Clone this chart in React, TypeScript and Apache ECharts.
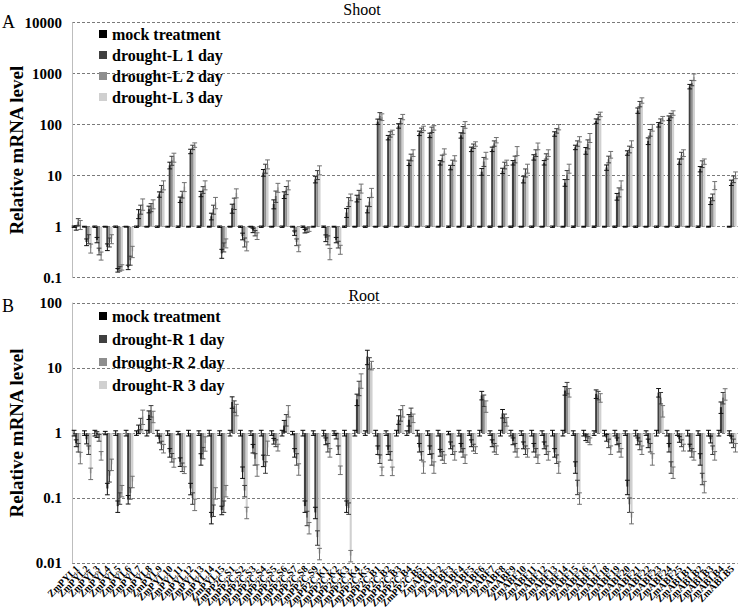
import React, { useEffect, useRef } from "react";
import * as echarts from "echarts";

// ---------- categories ----------
const genes = [
  "ZmPYL1", "ZmPYL2", "ZmPYL3", "ZmPYL4", "ZmPYL5", "ZmPYL6", "ZmPYL7", "ZmPYL8",
  "ZmPYL9", "ZmPYL10", "ZmPYL11", "ZmPYL12", "ZmPYL13", "ZmPYL14", "ZmPYL15",
  "ZmPP2C.S1", "ZmPP2C.S2", "ZmPP2C.S3", "ZmPP2C.S4", "ZmPP2C.S5", "ZmPP2C.S6",
  "ZmPP2C.S7", "ZmPP2C.S8", "ZmPP2C.S9",
  "ZmPP2C.K1", "ZmPP2C.K2", "ZmPP2C.K3", "ZmPP2C.K4", "ZmPP2C.K5",
  "ZmPP2C.B1", "ZmPP2C.B2", "ZmPP2C.B3", "ZmPP2C.B4", "ZmPP2C.B5",
  "ZmABF1", "ZmABF2", "ZmABF3", "ZmABF4", "ZmABF5", "ZmABF6", "ZmABF7", "ZmABF8",
  "ZmABF9", "ZmABF10", "ZmABF11", "ZmABF12", "ZmABF13", "ZmABF14", "ZmABF15",
  "ZmABF16", "ZmABF17", "ZmABF18", "ZmABF19", "ZmABF20", "ZmABF21", "ZmABF22",
  "ZmABF23", "ZmABF24", "ZmABF25",
  "ZmABI.B1", "ZmABI.B2", "ZmABI.B3", "ZmABI.B4", "ZmABI.B5",
];

const shootNames = ["mock treatment", "drought-L 1 day", "drought-L 2 day", "drought-L 3 day"];
const rootNames = ["mock treatment", "drought-R 1 day", "drought-R 2 day", "drought-R 3 day"];

// ---------- Shoot values ----------
const shootMock = [
  1, 1, 1, 1, 1, 1, 1, 1, 1, 1, 1, 1, 1, 1, 1, 1,
  1, 1, 1, 1, 1, 1, 1, 1, 1, 1, 1, 1, 1, 1, 1, 1,
  1, 1, 1, 1, 1, 1, 1, 1, 1, 1, 1, 1, 1, 1, 1, 1,
  1, 1, 1, 1, 1, 1, 1, 1, 1, 1, 1, 1, 1, 1, null, 1,
];
const shootDay1 = [
  0.95, 0.5, 0.55, 0.4, 0.14, 0.16, 1.8, 2.2,
  4.3, 16, 3.4, 30, 4.4, 1.6, 0.3, 2.3,
  0.65, 0.85, 11.5, 2.8, 4.2, 0.75, 0.82, 8.5,
  0.6, 0.55, 1.9, 3.6, 2.2, 115, 56, 95,
  18, 68, 62, 18, 14.5, 62, 33, 12,
  33, 12.5, 18, 8.5, 23, 18, 66, 7.3,
  36, 31, 118, 14.5, 3.9, 28, 190, 48,
  100, 135, 19, 560, 13.5, 3.2, null, 7.3,
];
const shootDay2 = [
  1.25, 0.58, 0.33, 0.5, 0.15, 0.22, 2.2, 2.4,
  5.6, 20, 4.3, 36, 5.3, 2.2, 0.4, 2.9,
  0.5, 0.75, 14, 4, 5.2, 0.5, 0.86, 10.5,
  0.55, 0.45, 3.1, 4.3, 3.1, 150, 65, 118,
  23, 78, 80, 22, 18, 80, 38, 19,
  43, 16, 21, 11.5, 28, 24, 76, 10.5,
  43, 42, 142, 21, 4.8, 33, 255, 70,
  118, 152, 25, 660, 17, 3.8, null, 8.6,
];
const shootDay3 = [
  1.1, 0.38, 0.27, 0.58, 0.16, 0.33, 2.8, 2.8,
  6.6, 23, 6.1, 40, 6.6, 3.0, 0.48, 4.6,
  0.42, 0.66, 17, 5.9, 6.6, 0.38, 0.9, 13,
  0.3, 0.36, 3.8, 5.7, 4.7, 142, 71, 142,
  28, 85, 87, 30, 22, 100, 42, 25,
  50, 18, 31, 14, 38, 28, 90, 14,
  52, 56, 160, 26, 6.6, 42, 300, 88,
  132, 170, 28, 860, 19, 6.5, null, 10.3,
];

// relative error (fraction of value)
const shootErrMock = [
  0.03, 0.02, 0.03, 0.02, 0.03, 0.02, 0.03, 0.02, 0.03, 0.02, 0.03, 0.02, 0.03, 0.02, 0.03, 0.02,
  0.03, 0.02, 0.03, 0.02, 0.03, 0.02, 0.03, 0.02, 0.03, 0.02, 0.03, 0.02, 0.03, 0.02, 0.03, 0.02,
  0.03, 0.02, 0.03, 0.02, 0.03, 0.02, 0.03, 0.02, 0.03, 0.02, 0.03, 0.02, 0.03, 0.02, 0.03, 0.02,
  0.03, 0.02, 0.03, 0.02, 0.03, 0.02, 0.03, 0.02, 0.03, 0.02, 0.03, 0.02, 0.03, 0.02, 0, 0.02,
];
const shootErr1 = [
  0.1, 0.15, 0.12, 0.15, 0.08, 0.1, 0.2, 0.15, 0.12, 0.15, 0.12, 0.1, 0.12, 0.15, 0.2, 0.2,
  0.15, 0.1, 0.15, 0.2, 0.15, 0.1, 0.08, 0.15, 0.15, 0.12, 0.2, 0.15, 0.15, 0.12, 0.1, 0.1,
  0.12, 0.1, 0.1, 0.1, 0.1, 0.12, 0.1, 0.15, 0.1, 0.12, 0.1, 0.15, 0.12, 0.1, 0.1, 0.15,
  0.1, 0.15, 0.1, 0.12, 0.15, 0.1, 0.12, 0.15, 0.1, 0.1, 0.12, 0.1, 0.12, 0.15, 0, 0.12,
];
const shootErr2 = [
  0.15, 0.2, 0.15, 0.2, 0.1, 0.2, 0.2, 0.18, 0.15, 0.2, 0.15, 0.1, 0.15, 0.2, 0.2, 0.25,
  0.2, 0.12, 0.2, 0.25, 0.18, 0.15, 0.1, 0.2, 0.2, 0.15, 0.2, 0.2, 0.2, 0.15, 0.12, 0.12,
  0.15, 0.1, 0.12, 0.15, 0.12, 0.15, 0.1, 0.2, 0.12, 0.15, 0.15, 0.18, 0.15, 0.12, 0.1, 0.2,
  0.12, 0.2, 0.12, 0.15, 0.2, 0.15, 0.12, 0.15, 0.1, 0.1, 0.15, 0.12, 0.15, 0.15, 0, 0.15,
];
const shootErr3 = [
  0.2, 0.2, 0.18, 0.2, 0.12, 0.25, 0.25, 0.2, 0.2, 0.2, 0.2, 0.1, 0.2, 0.25, 0.2, 0.2,
  0.2, 0.15, 0.2, 0.2, 0.2, 0.15, 0.1, 0.2, 0.25, 0.2, 0.15, 0.2, 0.2, 0.15, 0.1, 0.12,
  0.15, 0.1, 0.1, 0.12, 0.12, 0.15, 0.1, 0.15, 0.12, 0.12, 0.2, 0.2, 0.15, 0.15, 0.12, 0.2,
  0.12, 0.2, 0.1, 0.15, 0.2, 0.15, 0.12, 0.15, 0.1, 0.1, 0.15, 0.15, 0.12, 0.18, 0, 0.15,
];

// ---------- Root values ----------
const rootMock = [
  1, 1, 1, 1, 1, 1, 1, 1, 1, 1, 1, 1, 1, 1, 1, 1,
  1, 1, 1, 1, 1, 1, 1, 1, 1, 1, 1, 1, 1, 1, 1, 1,
  1, 1, 1, 1, 1, 1, 1, 1, 1, 1, 1, 1, 1, 1, 1, 1,
  1, 1, 1, 1, 1, 1, 1, 1, 1, 1, 1, 1, 1, 1, 1, 1,
];
const rootDay1 = [
  0.7, 0.8, 0.95, 0.14, 0.075, 0.095, 1.15, 1.9,
  0.8, 0.5, 0.36, 0.14, 0.4, 0.05, 0.065, 3.0,
  0.25, 0.58, 0.38, 0.75, 1.3, 0.5, 0.075, 0.06,
  0.75, 0.9, 0.075, 3.3, 15, 0.55, 0.55, 1.6,
  1.6, 0.6, 0.55, 0.5, 0.65, 0.6, 0.7, 3.8,
  0.7, 2.0, 0.75, 0.65, 0.6, 0.65, 0.5, 4.5,
  0.3, 0.85, 4.0, 0.85, 0.75, 0.15, 0.75, 0.7,
  4.2, 0.6, 0.8, 0.6, 0.4, 0.8, 2.5, 0.8,
];
const rootDay2 = [
  0.6, 0.55, 0.85, 0.22, 0.1, 0.12, 1.4, 2.2,
  0.65, 0.42, 0.3, 0.1, 0.5, 0.065, 0.075, 2.6,
  0.13, 0.4, 0.3, 0.7, 1.6, 0.4, 0.05, 0.025,
  0.6, 0.55, 0.07, 5.0, 12, 0.4, 0.45, 1.9,
  2.1, 0.45, 0.4, 0.45, 0.55, 0.5, 0.6, 3.2,
  0.6, 1.7, 0.6, 0.55, 0.5, 0.55, 0.4, 5.0,
  0.15, 0.8, 3.8, 0.7, 0.6, 0.08, 0.65, 0.6,
  3.5, 0.3, 0.7, 0.5, 0.2, 0.55, 3.5, 0.7,
];
const rootDay3 = [
  0.42, 0.24, 0.45, 0.33, 0.13, 0.18, 1.8, 1.8,
  0.58, 0.35, 0.27, 0.08, 0.7, 0.12, 0.13, 2.3,
  0.06, 0.27, 0.6, 0.6, 2.2, 0.28, 0.035, 0.014,
  0.5, 0.27, 0.013, 6.5, 11, 0.26, 0.26, 2.2,
  1.7, 0.3, 0.3, 0.4, 0.45, 0.4, 0.55, 2.6,
  0.55, 1.5, 0.5, 0.5, 0.4, 0.45, 0.3, 4.2,
  0.1, 0.75, 3.5, 0.55, 0.5, 0.05, 0.55, 0.4,
  2.2, 0.25, 0.6, 0.45, 0.15, 0.45, 4.0, 0.6,
];

const rootErrMock = [
  0.1, 0.08, 0.1, 0.06, 0.08, 0.1, 0.08, 0.1, 0.1, 0.08, 0.06, 0.1, 0.08, 0.1, 0.08, 0.1,
  0.1, 0.08, 0.1, 0.08, 0.1, 0.06, 0.1, 0.08, 0.1, 0.08, 0.1, 0.1, 0.08, 0.1, 0.08, 0.1,
  0.08, 0.1, 0.08, 0.1, 0.06, 0.1, 0.08, 0.1, 0.08, 0.1, 0.1, 0.08, 0.1, 0.08, 0.1, 0.1,
  0.08, 0.1, 0.08, 0.1, 0.1, 0.08, 0.1, 0.08, 0.1, 0.1, 0.08, 0.1, 0.08, 0.1, 0.1, 0.08,
];
const rootErr1 = [
  0.12, 0.15, 0.1, 0.2, 0.2, 0.15, 0.15, 0.15, 0.12, 0.15, 0.15, 0.2, 0.2, 0.2, 0.15, 0.2,
  0.2, 0.15, 0.2, 0.1, 0.2, 0.15, 0.2, 0.2, 0.12, 0.1, 0.2, 0.2, 0.25, 0.15, 0.15, 0.15,
  0.2, 0.15, 0.15, 0.12, 0.12, 0.15, 0.12, 0.15, 0.12, 0.15, 0.12, 0.12, 0.15, 0.12, 0.15, 0.15,
  0.2, 0.1, 0.15, 0.12, 0.12, 0.25, 0.12, 0.15, 0.15, 0.15, 0.1, 0.12, 0.2, 0.12, 0.2, 0.12,
];
const rootErr2 = [
  0.15, 0.15, 0.12, 0.2, 0.2, 0.2, 0.2, 0.2, 0.15, 0.15, 0.15, 0.2, 0.2, 0.2, 0.2, 0.2,
  0.2, 0.2, 0.2, 0.12, 0.2, 0.2, 0.25, 0.25, 0.15, 0.15, 0.2, 0.25, 0.2, 0.15, 0.15, 0.2,
  0.15, 0.15, 0.2, 0.15, 0.15, 0.15, 0.12, 0.2, 0.15, 0.15, 0.15, 0.15, 0.15, 0.15, 0.15, 0.2,
  0.25, 0.1, 0.15, 0.15, 0.15, 0.25, 0.15, 0.15, 0.2, 0.2, 0.12, 0.15, 0.2, 0.15, 0.2, 0.15,
];
const rootErr3 = [
  0.2, 0.2, 0.15, 0.2, 0.2, 0.2, 0.25, 0.2, 0.15, 0.15, 0.12, 0.2, 0.25, 0.2, 0.2, 0.2,
  0.2, 0.2, 0.25, 0.12, 0.2, 0.2, 0.2, 0.2, 0.15, 0.15, 0.2, 0.25, 0.15, 0.15, 0.15, 0.2,
  0.15, 0.2, 0.2, 0.15, 0.15, 0.15, 0.12, 0.2, 0.15, 0.15, 0.15, 0.15, 0.15, 0.15, 0.2, 0.15,
  0.2, 0.12, 0.15, 0.15, 0.15, 0.2, 0.15, 0.2, 0.2, 0.2, 0.12, 0.15, 0.2, 0.15, 0.2, 0.15,
];

// ---------- styling ----------
const BAR_COLORS = ["#000000", "#404040", "#8e8e8e", "#d0d0d0"];
const ERR_COLORS = ["#000000", "#111111", "#3a3a3a", "#707070"];
const SERIF = "'Liberation Serif', 'Times New Roman', serif";

type Num = number | null;

function errPoints(vals: Num[], errs: number[]) {
  const out: number[][] = [];
  vals.forEach((v, i) => {
    if (v == null) return;
    const e = errs[i];
    out.push([i, v, v * (1 - e), v * (1 + e)]);
  });
  return out;
}

function makeRender(k: number) {
  return (params: any, api: any) => {
    const i = api.value(0);
    const lo = api.value(2);
    const hi = api.value(3);
    const cw = api.size([1, 0], [i, 1])[0];
    const base = api.coord([i, 1]);
    const x = base[0] + cw * (-0.4 + 0.2 * (k + 0.5));
    const yTop = api.coord([i, hi])[1];
    const yBot = api.coord([i, lo])[1];
    const h = 2.4;
    const style = { stroke: ERR_COLORS[k], lineWidth: 1 };
    return {
      type: "group",
      children: [
        { type: "line", shape: { x1: x, y1: yTop, x2: x, y2: yBot }, style },
        { type: "line", shape: { x1: x - h, y1: yTop, x2: x + h, y2: yTop }, style },
        { type: "line", shape: { x1: x - h, y1: yBot, x2: x + h, y2: yBot }, style },
      ],
    };
  };
}

function panelSeries(
  names: string[],
  values: Num[][],
  errs: number[][],
  axisIdx: number,
  tag: string
) {
  const out: any[] = [];
  values.forEach((vals, k) => {
    out.push({
      type: "bar",
      name: names[k],
      xAxisIndex: axisIdx,
      yAxisIndex: axisIdx,
      data: vals,
      barGap: "0%",
      barCategoryGap: "20%",
      itemStyle: { color: BAR_COLORS[k] },
      emphasis: { disabled: true },
    });
  });
  values.forEach((vals, k) => {
    out.push({
      type: "custom",
      name: tag + "-err-" + k,
      xAxisIndex: axisIdx,
      yAxisIndex: axisIdx,
      data: errPoints(vals, errs[k]),
      encode: { x: 0, y: 1 },
      renderItem: makeRender(k),
      z: 5,
      silent: true,
    });
  });
  return out;
}

const fmt = (v: number) => String(parseFloat(Number(v).toPrecision(6)));

function yAxis(gridIndex: number, min: number, max: number) {
  return {
    type: "log",
    logBase: 10,
    gridIndex,
    min,
    max,
    name: "Relative mRNA level",
    nameLocation: "middle",
    nameGap: 46,
    nameMoveOverlap: false,
    nameTextStyle: { fontFamily: SERIF, fontWeight: "bold", fontSize: 19, color: "#000" },
    axisLine: { show: true, lineStyle: { color: "#bdbdbd", width: 1 } },
    axisTick: { show: false },
    axisLabel: {
      fontFamily: SERIF,
      fontWeight: "bold",
      fontSize: 15,
      color: "#000",
      margin: 10,
      formatter: fmt,
    },
    splitLine: { show: true, lineStyle: { color: "#7a7a7a", type: [3, 2], width: 1 } },
  };
}

function legend(names: string[], top: number, gap: number) {
  return {
    orient: "vertical",
    left: 94,
    top,
    itemWidth: 8,
    itemHeight: 8,
    itemGap: gap,
    icon: "rect",
    data: names,
    selectedMode: false,
    textStyle: { fontFamily: SERIF, fontWeight: "bold", fontSize: 16, color: "#000" },
  };
}

export default function App() {
  const ref = useRef<HTMLDivElement>(null);
  useEffect(() => {
    if (!ref.current) return;
    const chart = echarts.init(ref.current, null, { renderer: "svg" });
    const option: any = {
      animation: false,
      backgroundColor: "#ffffff",
      grid: [
        { left: 72, top: 22.7, width: 665.6, height: 255, containLabel: false, outerBoundsMode: "none" },
        { left: 72, top: 303, width: 665.6, height: 260, containLabel: false, outerBoundsMode: "none" },
      ],
      xAxis: [
        {
          type: "category",
          gridIndex: 0,
          data: genes,
          axisLine: { show: false },
          axisTick: { show: false },
          axisLabel: { show: false },
          splitLine: { show: false },
        },
        {
          type: "category",
          gridIndex: 1,
          data: genes,
          axisLine: { show: false },
          axisTick: { show: false },
          axisLabel: {
            show: true,
            interval: 0,
            rotate: 45,
            fontFamily: SERIF,
            fontWeight: "bold",
            fontSize: 10,
            color: "#000",
            margin: 4,
            hideOverlap: false,
          },
          splitLine: { show: false },
        },
      ],
      yAxis: [yAxis(0, 0.1, 10000), yAxis(1, 0.01, 100)],
      legend: [legend(shootNames, 21, 5), legend(rootNames, 303, 7)],
      series: [
        ...panelSeries(
          shootNames,
          [shootMock, shootDay1, shootDay2, shootDay3],
          [shootErrMock, shootErr1, shootErr2, shootErr3],
          0,
          "shoot"
        ),
        ...panelSeries(
          rootNames,
          [rootMock, rootDay1, rootDay2, rootDay3],
          [rootErrMock, rootErr1, rootErr2, rootErr3],
          1,
          "root"
        ),
      ],
      graphic: [
        {
          type: "text",
          x: 362,
          y: 9,
          style: { text: "Shoot", font: `16px ${SERIF}`, fill: "#000", textAlign: "center", textVerticalAlign: "middle" },
        },
        {
          type: "text",
          x: 364,
          y: 295,
          style: { text: "Root", font: `16px ${SERIF}`, fill: "#000", textAlign: "center", textVerticalAlign: "middle" },
        },
        {
          type: "text",
          x: 2,
          y: 22,
          style: { text: "A", font: `18px ${SERIF}`, fill: "#000", textAlign: "left", textVerticalAlign: "middle" },
        },
        {
          type: "text",
          x: 2,
          y: 306,
          style: { text: "B", font: `18px ${SERIF}`, fill: "#000", textAlign: "left", textVerticalAlign: "middle" },
        },
      ],
    };
    chart.setOption(option);
    return () => chart.dispose();
  }, []);
  return (
    <div
      ref={ref}
      style={{ position: "absolute", left: 0, top: 0, width: 747, height: 612, background: "#fff" }}
    />
  );
}
